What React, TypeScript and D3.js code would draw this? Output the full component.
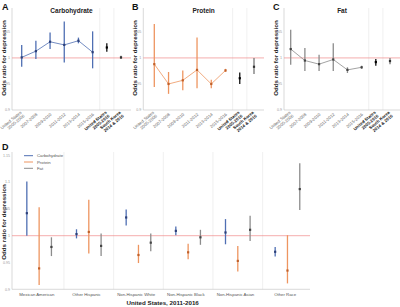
import React from "react";
import * as d3 from "d3";

// ---------- data ----------
const periods = [
  "United States\n2005-2006",
  "2007-2008",
  "2009-2010",
  "2011-2012",
  "2013-2014",
  "2015-2016",
  "United States\n2005-2016",
  "South Korea\n2014 & 2016",
];

const carbOR = [1.001, 1.013, 1.031, 1.025, 1.033, 1.011, 1.02, 1.001];
const carbLo = [0.983, 0.998, 1.017, 0.991, 1.028, 0.98, 1.012, 0.998];
const carbHi = [1.025, 1.033, 1.049, 1.07, 1.039, 1.051, 1.028, 1.004];

const protOR = [0.988, 0.95, 0.957, 0.977, 0.95, 0.976, 0.961, 0.983];
const protLo = [0.944, 0.931, 0.938, 0.942, 0.942, 0.973, 0.95, 0.969];
const protHi = [1.065, 0.973, 0.976, 1.039, 0.958, 0.979, 0.972, 1.0];

const fatOR = [1.017, 0.995, 0.988, 0.997, 0.977, 0.982, 0.992, 0.994];
const fatLo = [0.987, 0.975, 0.975, 0.975, 0.971, 0.979, 0.985, 0.988];
const fatHi = [1.054, 1.019, 1.006, 1.028, 0.982, 0.985, 0.998, 1.0];

const topTicks = [0.9, 0.95, 1, 1.05];

const groups = [
  "Mexican American",
  "Other Hispanic",
  "Non-Hispanic White",
  "Non-Hispanic Black",
  "Non-Hispanic Asian",
  "Other Race",
];
const nutrients = ["Carbohydrate", "Protein", "Fat"];

const raceCarbOR = [1.042, 1.003, 1.034, 1.009, 1.006, 0.97];
const raceCarbLo = [1.0, 0.995, 1.019, 1.001, 0.984, 0.961];
const raceCarbHi = [1.101, 1.012, 1.049, 1.017, 1.031, 0.979];

const raceProtOR = [0.939, 1.007, 0.964, 0.969, 0.953, 0.935];
const raceProtLo = [0.908, 0.967, 0.949, 0.956, 0.933, 0.911];
const raceProtHi = [1.053, 1.067, 0.983, 0.985, 0.981, 1.001];

const raceFatOR = [0.979, 0.981, 0.987, 0.997, 1.011, 1.087];
const raceFatLo = [0.962, 0.962, 0.971, 0.983, 0.99, 1.048];
const raceFatHi = [0.997, 1.004, 1.004, 1.011, 1.037, 1.135];

const dTicks = [0.9, 0.95, 1, 1.05, 1.1, 1.15];

// ---------- styles ----------
const FONT = "Liberation Sans, Arial, Helvetica, sans-serif";
const BLUE = "#4f6fb3";
const BLUE_DK = "#2c3f78";
const ORANGE = "#ee9560";
const ORANGE_DK = "#c0602a";
const GRAY = "#8c8c8c";
const GRAY_DK = "#444";
const REF = "#f08a8a";
const AXIS = "#c8c8c8";
const SEP = "#ececec";

const fmt = (v: number) => String(+v.toFixed(2));

type PanelSpec = {
  letter: string;
  title: string;
  axisX: number;
  x0: number;
  x1: number;
  right: number;
  letterX: number;
  color: string;
  colorDk: string;
  or: number[];
  lo: number[];
  hi: number[];
};

const yTop = d3.scaleLinear().domain([0.9, 1.092]).range([110, 10]);

function TopPanel({ p }: { p: PanelSpec }) {
  const x = d3.scalePoint<string>().domain(periods).range([p.x0, p.x1]);
  const idx = d3.range(periods.length);
  const trend = idx.slice(0, 6);
  const line = d3
    .line<number>()
    .x((i) => x(periods[i])!)
    .y((i) => yTop(p.or[i]));
  const sep1 = (x(periods[5])! + x(periods[6])!) / 2;
  const sep2 = (x(periods[6])! + x(periods[7])!) / 2;
  const cx = (p.axisX + p.right) / 2;
  return (
    <g>
      <text x={p.letterX} y={10} fontSize={9} fontWeight="bold" fontFamily={FONT} fill="#111">
        {p.letter}
      </text>
      <text x={cx} y={12.5} fontSize={6.5} fontWeight="bold" textAnchor="middle" fontFamily={FONT} fill="#222">
        {p.title}
      </text>
      <text
        transform={`translate(${p.axisX - 6.5},${58}) rotate(-90)`}
        fontSize={6.2}
        fontWeight="bold"
        textAnchor="middle"
        fontFamily={FONT}
        fill="#222"
      >
        Odds ratio for depression
      </text>
      {[sep1, sep2].map((s, i) => (
        <line key={i} x1={s} x2={s} y1={8} y2={110} stroke={SEP} strokeWidth={0.8} />
      ))}
      <line x1={p.axisX} x2={p.axisX} y1={8} y2={110} stroke={AXIS} strokeWidth={0.7} />
      <line x1={p.axisX} x2={p.right} y1={110} y2={110} stroke={AXIS} strokeWidth={0.7} />
      {topTicks.map((t) => (
        <text
          key={t}
          x={p.axisX - 2}
          y={yTop(t) + 1.3}
          fontSize={3.6}
          textAnchor="end"
          fontFamily={FONT}
          fill="#999"
        >
          {fmt(t)}
        </text>
      ))}
      <line x1={p.axisX} x2={p.right} y1={yTop(1)} y2={yTop(1)} stroke={REF} strokeWidth={0.7} />
      <path d={line(trend) || ""} fill="none" stroke={p.color} strokeWidth={0.8} />
      {idx.map((i) => {
        const col = i === 6 ? "#111" : i === 7 ? "#777" : p.color;
        const dk = i === 6 ? "#000" : i === 7 ? "#333" : p.colorDk;
        const xi = x(periods[i])!;
        return (
          <g key={i}>
            <line x1={xi} x2={xi} y1={yTop(p.lo[i])} y2={yTop(p.hi[i])} stroke={col} strokeWidth={1.3} />
            <rect x={xi - 1.1} y={yTop(p.or[i]) - 1.1} width={2.2} height={2.2} fill={dk} />
          </g>
        );
      })}
      {periods.map((lab, i) => {
        const lines = lab.split("\n");
        const bold = i >= 6;
        return (
          <text
            key={lab}
            transform={`translate(${x(lab)! + 1},${114}) rotate(-40)`}
            fontSize={4.3}
            textAnchor="end"
            fontFamily={FONT}
            fontWeight={bold ? "bold" : "normal"}
            fill={bold ? "#111" : "#666"}
          >
            {lines.map((l, k) => (
              <tspan key={k} x={0} dy={k === 0 ? (lines.length > 1 ? "-0.3em" : "0.3em") : "1.05em"}>
                {l}
              </tspan>
            ))}
          </text>
        );
      })}
    </g>
  );
}

const panels: PanelSpec[] = [
  { letter: "A", title: "Carbohydrate", axisX: 12, x0: 21.7, x1: 121, right: 131, letterX: 2, color: BLUE, colorDk: BLUE_DK, or: carbOR, lo: carbLo, hi: carbHi },
  { letter: "B", title: "Protein", axisX: 143.3, x0: 154.3, x1: 254, right: 264, letterX: 132, color: ORANGE, colorDk: ORANGE_DK, or: protOR, lo: protLo, hi: protHi },
  { letter: "C", title: "Fat", axisX: 284, x0: 290.7, x1: 390, right: 400, letterX: 273, color: GRAY, colorDk: GRAY_DK, or: fatOR, lo: fatLo, hi: fatHi },
];

function PanelD() {
  const yD = d3.scaleLinear().domain([0.9, 1.15]).range([289.3, 155.3]);
  const xG = d3.scaleBand<string>().domain(groups).range([12, 310]);
  const xS = d3.scalePoint<string>().domain(nutrients).range([-10, 14.6]);
  const step = xG.step();
  const series = [
    { name: "Carbohydrate", color: BLUE, dk: BLUE_DK, or: raceCarbOR, lo: raceCarbLo, hi: raceCarbHi },
    { name: "Protein", color: ORANGE, dk: ORANGE_DK, or: raceProtOR, lo: raceProtLo, hi: raceProtHi },
    { name: "Fat", color: GRAY, dk: GRAY_DK, or: raceFatOR, lo: raceFatLo, hi: raceFatHi },
  ];
  const center = (g: string) => xG(g)! + step / 2;
  return (
    <g>
      <text x={2} y={150} fontSize={9} fontWeight="bold" fontFamily={FONT} fill="#111">
        D
      </text>
      <text
        transform={`translate(5.5,${222}) rotate(-90)`}
        fontSize={6.2}
        fontWeight="bold"
        textAnchor="middle"
        fontFamily={FONT}
        fill="#222"
      >
        Odds ratio for depression
      </text>
      {groups.slice(0, -1).map((g) => {
        const s = center(g) + step / 2 + 2.3;
        return <line key={g} x1={s} x2={s} y1={152} y2={289.3} stroke={SEP} strokeWidth={0.8} />;
      })}
      <line x1={12} x2={12} y1={152} y2={289.3} stroke={AXIS} strokeWidth={0.7} />
      <line x1={12} x2={310} y1={289.3} y2={289.3} stroke={AXIS} strokeWidth={0.7} />
      {dTicks.map((t) => (
        <text key={t} x={10} y={yD(t) + 1.3} fontSize={3.6} textAnchor="end" fontFamily={FONT} fill="#999">
          {fmt(t)}
        </text>
      ))}
      <line x1={12} x2={310} y1={yD(1)} y2={yD(1)} stroke={REF} strokeWidth={0.7} />
      {series.map((s) =>
        groups.map((g, i) => {
          const xi = center(g) + xS(s.name)!;
          return (
            <g key={s.name + g}>
              <line x1={xi} x2={xi} y1={yD(s.lo[i])} y2={yD(s.hi[i])} stroke={s.color} strokeWidth={1.3} />
              <rect x={xi - 1.1} y={yD(s.or[i]) - 1.1} width={2.2} height={2.2} fill={s.dk} />
            </g>
          );
        })
      )}
      {series.map((s, i) => (
        <g key={s.name}>
          <line x1={24} x2={33} y1={155.7 + i * 6.3} y2={155.7 + i * 6.3} stroke={s.color} strokeWidth={1} />
          <text x={37} y={155.7 + i * 6.3 + 1.5} fontSize={4.3} fontFamily={FONT} fill="#555">
            {s.name}
          </text>
        </g>
      ))}
      {groups.map((g) => (
        <text key={g} x={center(g)} y={295.5} fontSize={4.3} textAnchor="middle" fontFamily={FONT} fill="#555">
          {g}
        </text>
      ))}
      <text x={162.7} y={305} fontSize={6.2} fontWeight="bold" textAnchor="middle" fontFamily={FONT} fill="#222">
        United States, 2011-2016
      </text>
    </g>
  );
}

export default function App() {
  return (
    <svg
      width={400}
      height={307}
      viewBox="0 0 400 307"
      style={{ position: "absolute", left: 0, top: 0, background: "#fff" }}
    >
      <rect width={400} height={307} fill="#fff" />
      {panels.map((p) => (
        <TopPanel key={p.letter} p={p} />
      ))}
      <PanelD />
    </svg>
  );
}
